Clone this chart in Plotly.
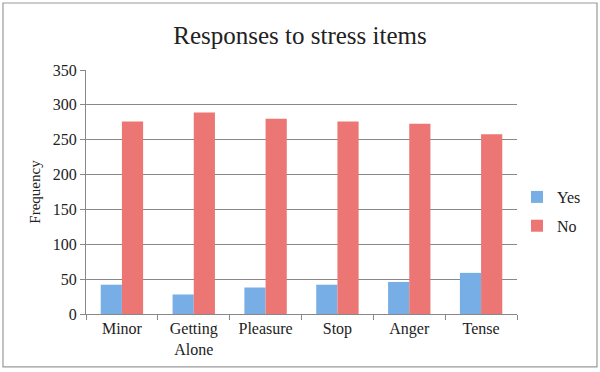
import plotly.graph_objects as go

categories = ["Minor", "Getting Alone", "Pleasure", "Stop", "Anger", "Tense"]
tick_labels = ["Minor", "Getting<br>Alone", "Pleasure", "Stop", "Anger", "Tense"]
yes_values = [42, 28, 38, 42, 46, 59]
no_values = [276, 289, 280, 276, 273, 258]
y_ticks = [0, 50, 100, 150, 200, 250, 300, 350]

FONT = "Liberation Serif"

fig = go.Figure()
fig.add_trace(go.Bar(name="Yes", x=categories, y=yes_values, legendgroup="yes",
                     marker=dict(color="#78aee6", line=dict(width=0))))
fig.add_trace(go.Bar(name="No", x=categories, y=no_values, legendgroup="no",
                     marker=dict(color="#ec7674", line=dict(width=0))))

fig.update_layout(
    width=600, height=372,
    barmode="group", bargap=0.41, bargroupgap=0,
    margin=dict(l=86, r=83, t=70, b=58, autoexpand=False),
    paper_bgcolor="white", plot_bgcolor="white",
    font=dict(family=FONT, size=16, color="#222"),
    title=dict(text="Responses to stress items", x=0.5, xanchor="center",
               yref="container", y=1 - 35 / 372, yanchor="middle",
               font=dict(family=FONT, size=25, color="#222")),
    legend=dict(x=1.0, xanchor="left", y=0.42, yanchor="middle",
                font=dict(family=FONT, size=16, color="#222"),
                itemwidth=30, tracegroupgap=5, bgcolor="rgba(0,0,0,0)"),
    showlegend=True,
)
fig.update_xaxes(
    tickmode="array", tickvals=categories, ticktext=tick_labels,
    showline=True, linecolor="#888", linewidth=1,
    ticks="outside", tickson="boundaries", ticklen=5, tickcolor="#888",
    showgrid=False, tickfont=dict(family=FONT, size=16, color="#222"),
)
fig.update_yaxes(
    range=[0, 350], tickmode="array", tickvals=y_ticks,
    showline=True, linecolor="#888", linewidth=1,
    ticks="outside", ticklen=5, tickcolor="#888",
    showgrid=True, gridcolor="#888", gridwidth=1, zeroline=False,
    title=dict(text="Frequency", font=dict(family=FONT, size=15, color="#222"), standoff=8),
    tickfont=dict(family=FONT, size=16, color="#222"),
)
fig.add_shape(type="rect", xref="paper", yref="paper",
              x0=-0.1926, x1=1.1856, y0=-0.217, y1=1.2746,
              line=dict(color="#999", width=1.2), fillcolor="rgba(0,0,0,0)", layer="below")

fig.write_html("out.html", config={"displayModeBar": False},
               post_script="document.body.style.margin='0';document.body.style.overflow='hidden';")
